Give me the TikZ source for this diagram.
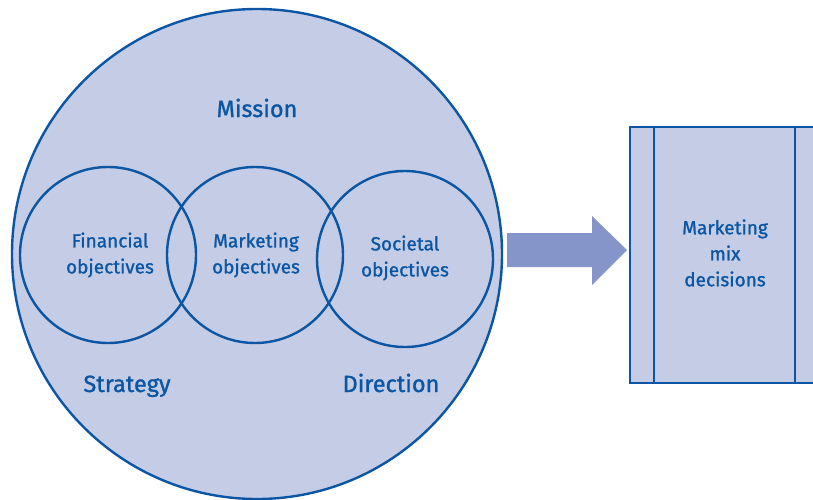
\documentclass[tikz,border=0pt]{standalone}
\usepackage{fontspec}
\setmainfont{Fira Sans}[BoldFont={Fira Sans}, BoldFeatures={FakeBold=1.2}]
\definecolor{fillblue}{HTML}{C5CDE6}
\definecolor{lineblue}{HTML}{0A56A4}
\definecolor{arrowblue}{HTML}{8595C9}
\begin{document}
\begin{tikzpicture}[x=1pt,y=-1pt,
  ring/.style={circle, draw=lineblue, line width=2.4pt, inner sep=0pt},
  lbl/.style={text=lineblue, align=center, font=\bfseries\fontsize{19}{26}\selectfont},
  biglbl/.style={text=lineblue, anchor=base, font=\bfseries\fontsize{23.5}{28}\selectfont}]
\useasboundingbox (0,0) rectangle (813,499);
\clip (0,0) rectangle (813,499);
\node[ring, fill=fillblue, minimum size=490pt] (big) at (257,254) {};
\node[ring, minimum size=176pt] (fin) at (108,255) {};
\node[ring, minimum size=176pt] (mkt) at (255,255) {};
\node[ring, minimum size=176pt] (soc) at (405,259) {};
\node[biglbl] (mission) at (257,117) {Mission};
\node[biglbl] (strategy) at (127,392) {Strategy};
\node[biglbl] (direction) at (391,392) {Direction};
\node[lbl] (fint) at (110,255) {Financial\\objectives};
\node[lbl] (mktt) at (256,255) {Marketing\\objectives};
\node[lbl] (soct) at (405,258) {Societal\\objectives};
% block arrow
\fill[arrowblue] (507,233) -- (592,233) -- (592,216) -- (627,250) -- (592,285) -- (592,267) -- (507,267) -- cycle;
% box
\node[draw=lineblue, fill=fillblue, line width=2.4pt, minimum width=201pt, minimum height=256pt, anchor=north west, inner sep=0pt] (box) at (629,126) {};
\draw[lineblue, line width=2.4pt] (654,126) -- (654,382);
\draw[lineblue, line width=2.4pt] (795,126) -- (795,382);
\node[lbl] (mix) at (725,253) {Marketing\\mix\\decisions};
\end{tikzpicture}
\end{document}
